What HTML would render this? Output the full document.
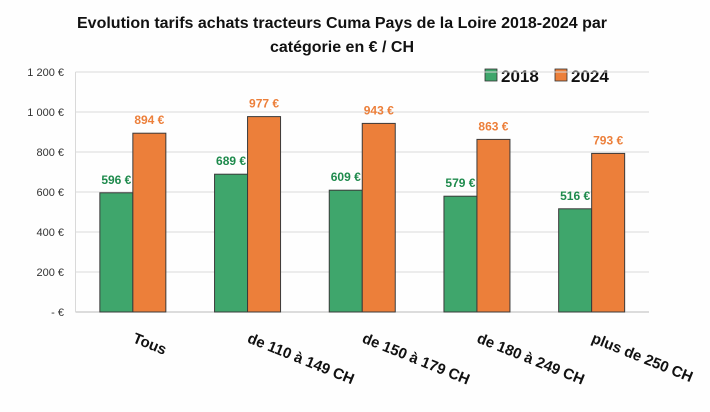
<!DOCTYPE html>
<html><head><meta charset="utf-8"><style>
body{margin:0;background:#fff}
svg{font-family:"Liberation Sans",Arial,sans-serif;display:block}
</style></head><body>
<svg width="710" height="412">
<rect width="710" height="412" fill="#fefefe"/>
<text x="342" y="28" text-anchor="middle" font-size="16" font-weight="bold" fill="#111">Evolution tarifs achats tracteurs Cuma Pays de la Loire 2018-2024 par</text>
<text x="342" y="52" text-anchor="middle" font-size="16" font-weight="bold" fill="#111">catégorie en € / CH</text>
<g>
<rect x="485" y="69" width="12" height="12" fill="#3fa66c" stroke="#333" stroke-width="0.8"/>
<text x="501" y="82" font-size="17" font-weight="bold" fill="#111">2018</text>
<rect x="555" y="69" width="12" height="12" fill="#ec7f3a" stroke="#333" stroke-width="0.8"/>
<text x="571" y="82" font-size="17" font-weight="bold" fill="#111">2024</text>
</g>
<g id="plot"></g>
</svg>
<script>
const categories=["Tous","de 110 à 149 CH","de 150 à 179 CH","de 180 à 249 CH","plus de 250 CH"];
const values2018=[596,689,609,579,516];
const values2024=[894,977,943,863,793];
const ticks=[0,200,400,600,800,1000,1200];
const tickLabels=["-   €","200 €","400 €","600 €","800 €","1 000 €","1 200 €"];
const NS="http://www.w3.org/2000/svg";
const g=document.getElementById('plot');
const x0=75.5,x1=649,y0=312,y1=72,vmax=1200;
const y=v=>y0-(v/vmax)*(y0-y1);
const step=(x1-x0)/categories.length;
const cx=i=>x0+step*(i+0.5);
const bw=33;
function mk(t,a){const e=document.createElementNS(NS,t);for(const k in a)e.setAttribute(k,a[k]);g.appendChild(e);return e;}
ticks.forEach((t,i)=>{
 const l=mk('line',{x1:x0,x2:x1,y1:y(t),y2:y(t),stroke:t===0?'#bbb':'#d9d9d9','stroke-width':1});
 
 
 const tx=mk('text',{x:64,y:y(t)+4,'text-anchor':'end','font-size':11,fill:'#333'});
 tx.textContent=tickLabels[i];
 
 
});
mk('line',{x1:x0,x2:x0,y1:y1,y2:y0,stroke:'#d9d9d9'});
categories.forEach((c,i)=>{
 const a=values2018[i],b=values2024[i];
 const r1=mk('rect',{x:cx(i)-bw,y:y(a),width:bw,height:y0-y(a),fill:'#3fa66c',stroke:'#3a3a3a','stroke-width':1});
 
 
 const r2=mk('rect',{x:cx(i),y:y(b),width:bw,height:y0-y(b),fill:'#ec7f3a',stroke:'#3a3a3a','stroke-width':1});
 
 
 const l1=mk('text',{x:cx(i)-bw/2,y:y(a)-9,'text-anchor':'middle','font-size':12,'font-weight':'bold',fill:'#1e8a4c'});
 l1.textContent=a+' €';
 
 
 const l2=mk('text',{x:cx(i)+bw/2,y:y(b)-9,'text-anchor':'middle','font-size':12,'font-weight':'bold',fill:'#ec7f3a'});
 l2.textContent=b+' €';
 
 
 const xl=mk('text',{x:0,y:0,'font-size':15,'font-weight':'bold',fill:'#111',transform:`translate(${cx(i)-1},${342}) rotate(22)`});
 xl.textContent=c;
 
 
});
</script>
</body></html>
